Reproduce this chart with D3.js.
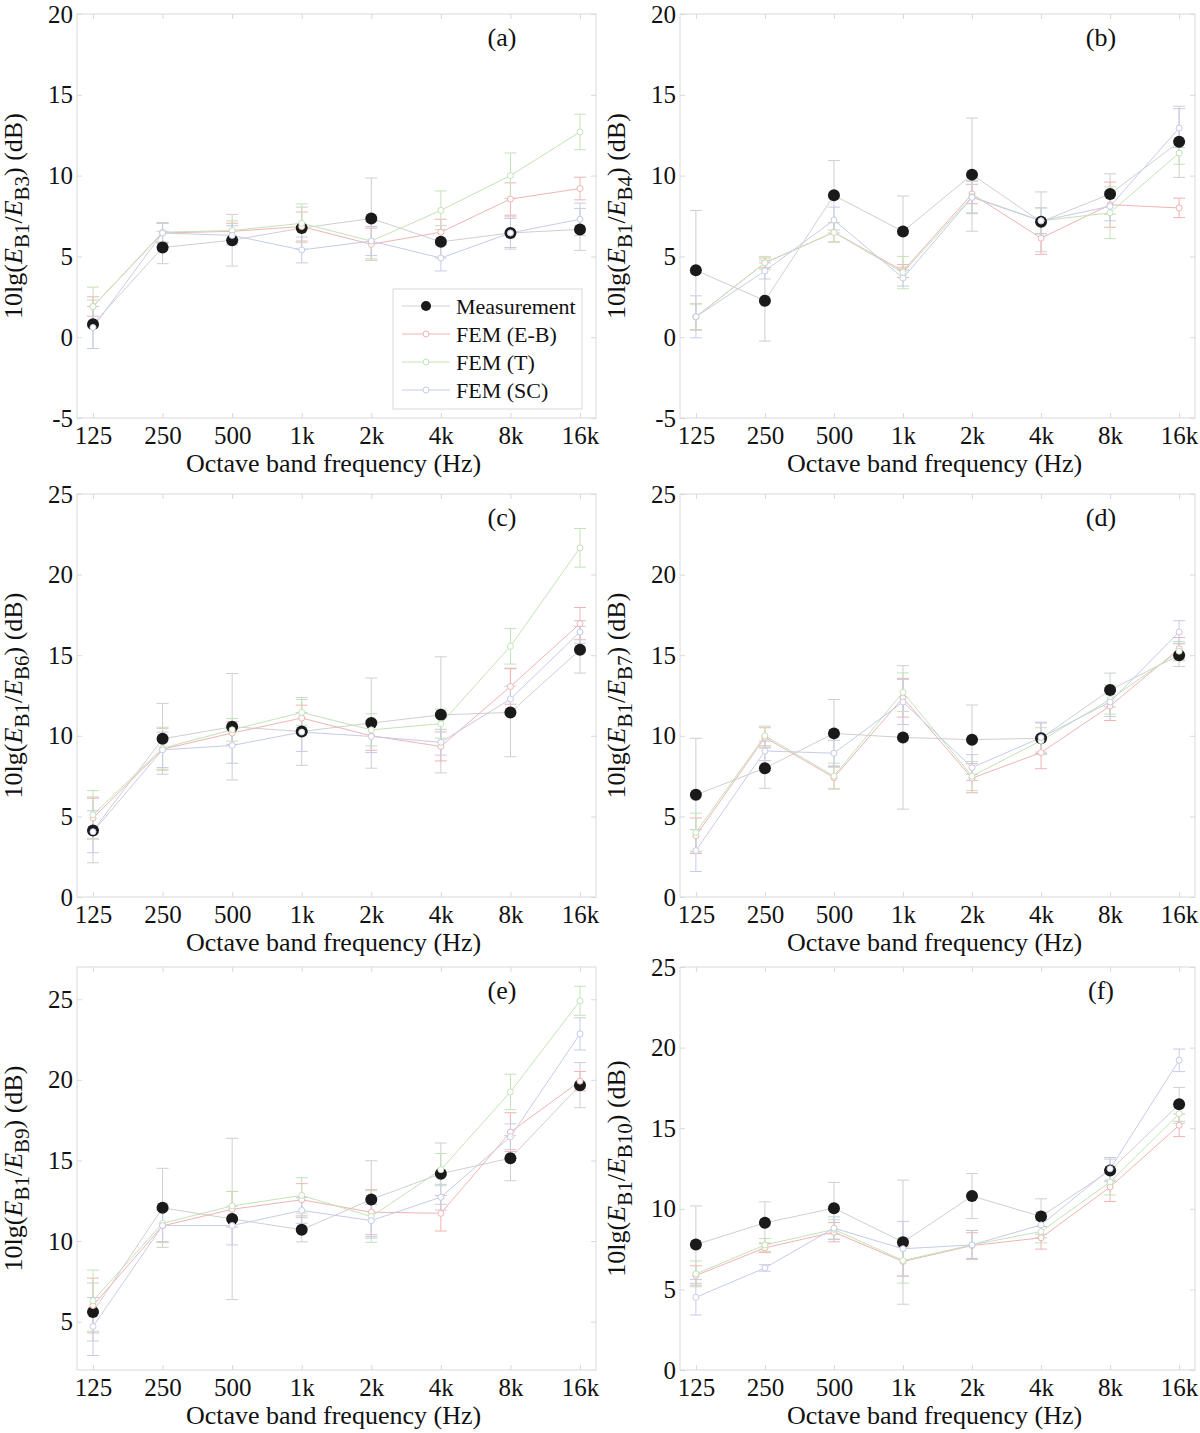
<!DOCTYPE html>
<html>
<head>
<meta charset="utf-8">
<script src="https://cdn.jsdelivr.net/npm/d3@7"></script>
<style>
  body { margin: 0; background: #fff; }
  svg { display: block; }
  text { font-family: "Liberation Serif", "Times New Roman", serif; fill: #111; }
</style>
</head>
<body>
<svg id="chart" width="1200" height="1433"></svg>
<script>
// octave bands on the x axis
const freqLabels = ["125", "250", "500", "1k", "2k", "4k", "8k", "16k"];
const panelLetters = ["(a)", "(b)", "(c)", "(d)", "(e)", "(f)"];
const receivers = ["B3", "B4", "B6", "B7", "B9", "B10"];
const yDomains = [[-5, 20], [-5, 20], [0, 25], [0, 25], [2, 27], [0, 25]];
const yTicks = [
    [-5, 0, 5, 10, 15, 20],
    [-5, 0, 5, 10, 15, 20],
    [0, 5, 10, 15, 20, 25],
    [0, 5, 10, 15, 20, 25],
    [5, 10, 15, 20, 25],
    [0, 5, 10, 15, 20, 25]
];
const seriesNames = ["Measurement", "FEM (E-B)", "FEM (T)", "FEM (SC)"];

// values, one row per panel (a)..(f)
const measurement = [
    [0.8, 5.55, 6.0, 6.75, 7.35, 5.9, 6.45, 6.67],
    [4.14, 2.26, 8.78, 6.54, 10.06, 7.14, 8.86, 12.09],
    [4.12, 9.81, 10.56, 10.27, 10.79, 11.3, 11.45, 15.34],
    [6.34, 7.99, 10.15, 9.9, 9.76, 9.85, 12.84, 15.0],
    [5.6, 12.06, 11.37, 10.7, 12.58, 14.18, 15.14, 19.67],
    [7.78, 9.13, 10.04, 7.93, 10.79, 9.52, 12.38, 16.48]
];
const measurementErr = [
    [1.5, 1.0, 1.6, 1.3, 2.5, 1.0, 1.0, 1.3],
    [3.7, 2.5, 2.15, 2.2, 3.5, 1.85, 1.25, 2.2],
    [2.0, 2.2, 3.3, 2.1, 2.8, 3.6, 2.75, 1.45],
    [3.5, 1.25, 2.1, 4.45, 2.15, 1.0, 1.05, 0.7],
    [1.8, 2.45, 5.0, 0.75, 2.4, 1.9, 1.4, 1.4],
    [2.4, 1.3, 1.6, 3.85, 1.4, 1.1, 0.7, 1.05]
];
const femEB = [
    [1.9, 6.45, 6.55, 6.85, 5.75, 6.5, 8.55, 9.2],
    [1.26, 4.6, 6.5, 4.1, 8.86, 6.13, 8.2, 8.0],
    [4.9, 9.17, 10.17, 11.1, 10.0, 9.34, 13.06, 16.96],
    [3.8, 9.9, 7.41, 12.36, 7.37, 8.96, 11.85, 15.4],
    [6.0, 10.94, 11.97, 12.56, 11.79, 11.72, 16.76, 19.92],
    [5.86, 7.58, 8.55, 6.73, 7.72, 8.2, 11.35, 15.18]
];
const femEBErr = [
    [0.6, 0.6, 0.5, 0.9, 1.0, 0.8, 1.0, 0.7],
    [0.8, 0.3, 0.6, 0.4, 0.6, 1.0, 1.4, 0.6],
    [1.3, 1.3, 0.7, 0.8, 0.9, 0.9, 1.1, 1.0],
    [1.1, 0.6, 0.7, 1.2, 0.9, 1.0, 0.9, 0.7],
    [1.7, 1.0, 1.1, 1.0, 1.4, 1.1, 1.2, 0.6],
    [0.6, 0.3, 0.6, 0.9, 0.8, 0.7, 0.9, 0.7]
];
const femT = [
    [1.9, 6.5, 6.6, 7.05, 5.95, 7.85, 10.0, 12.7],
    [1.26, 4.6, 6.48, 4.0, 8.7, 7.2, 7.7, 11.4],
    [5.1, 9.23, 10.37, 11.45, 10.37, 10.75, 15.55, 21.66],
    [4.0, 10.0, 7.5, 12.7, 7.5, 9.7, 12.25, 15.25],
    [6.3, 11.1, 12.18, 12.83, 11.52, 14.43, 19.25, 24.9],
    [5.96, 7.76, 8.72, 6.79, 7.76, 8.59, 11.66, 15.9]
];
const femTErr = [
    [1.2, 0.6, 0.6, 1.2, 1.2, 1.2, 1.4, 1.1],
    [0.8, 0.4, 0.6, 1.0, 1.0, 0.8, 1.6, 0.7],
    [1.5, 1.3, 0.7, 0.8, 1.0, 0.9, 1.1, 1.2],
    [1.2, 0.6, 0.8, 1.2, 0.9, 0.8, 0.9, 0.6],
    [1.9, 1.2, 0.9, 1.1, 1.6, 1.0, 1.1, 0.9],
    [0.8, 0.4, 0.6, 1.4, 0.9, 0.7, 0.8, 0.6]
];
const femSC = [
    [0.6, 6.45, 6.3, 5.4, 5.95, 4.9, 6.45, 7.3],
    [1.26, 4.1, 7.25, 3.66, 8.65, 7.2, 8.1, 12.94],
    [4.05, 9.13, 9.4, 10.23, 9.96, 9.6, 12.28, 16.44],
    [2.88, 9.06, 8.92, 12.1, 8.03, 9.89, 12.1, 16.44],
    [4.7, 10.96, 10.96, 11.9, 11.27, 12.72, 16.47, 22.85],
    [4.51, 6.33, 8.8, 7.52, 7.76, 9.0, 12.48, 19.21]
];
const femSCErr = [
    [1.3, 0.6, 0.6, 0.8, 0.9, 0.8, 0.9, 1.0],
    [1.3, 0.5, 0.8, 0.5, 1.0, 0.8, 0.9, 1.2],
    [1.3, 1.1, 1.1, 1.2, 1.0, 0.8, 0.8, 0.7],
    [1.3, 0.6, 0.8, 1.4, 0.8, 0.9, 0.9, 0.7],
    [1.8, 1.0, 1.2, 0.8, 1.0, 0.8, 0.8, 1.0],
    [1.1, 0.2, 0.7, 1.7, 0.9, 0.8, 0.7, 0.7]
];

const colors = ["#cfcfcf", "#f2b3b3", "#c3e3b8", "#c6cbe8"];
const frameColor = "#d9d9d9";

const cols = [[77, 596], [680, 1195]];
const rows = [[14, 418], [494, 897], [967, 1370]];

const svg = d3.select("#chart");

panelLetters.forEach((letter, p) => {
    const [x0, x1] = cols[p % 2];
    const [y0, y1] = rows[Math.floor(p / 2)];

    const x = d3.scalePoint().domain(freqLabels).range([x0, x1]).padding(0.23);
    const y = d3.scaleLinear().domain(yDomains[p]).range([y1, y0]);

    const g = svg.append("g").attr("class", "panel");

    g.append("rect")
        .attr("x", x0).attr("y", y0)
        .attr("width", x1 - x0).attr("height", y1 - y0)
        .attr("fill", "none")
        .attr("stroke", frameColor);

    // axes with inward ticks, plain hyphen for negatives
    const left = g.append("g")
        .attr("transform", `translate(${x0},0)`)
        .call(d3.axisLeft(y).tickValues(yTicks[p]).tickFormat(d => String(d))
            .tickSize(-5).tickPadding(4).tickSizeOuter(0));
    const right = g.append("g")
        .attr("transform", `translate(${x1},0)`)
        .call(d3.axisRight(y).tickValues(yTicks[p]).tickSize(-5).tickFormat("").tickSizeOuter(0));
    const bottom = g.append("g")
        .attr("transform", `translate(0,${y1})`)
        .call(d3.axisBottom(x).tickSize(-5).tickPadding(8).tickSizeOuter(0));
    const top = g.append("g")
        .attr("transform", `translate(0,${y0})`)
        .call(d3.axisTop(x).tickSize(-5).tickFormat("").tickSizeOuter(0));

    [left, right, bottom, top].forEach(a => {
        a.select(".domain").remove();
        a.selectAll(".tick line").attr("stroke", frameColor);
        a.selectAll(".tick text")
            .attr("font-size", 25)
            .attr("font-family", "Liberation Serif")
            .attr("fill", "#111");
    });

    g.append("text")
        .attr("x", (x0 + x1) / 2 - 3)
        .attr("y", y1 + 54)
        .attr("text-anchor", "middle")
        .attr("font-size", 26)
        .text("Octave band frequency (Hz)");

    const yt = g.append("text")
        .attr("transform", `translate(${x0 - 55},${(y0 + y1) / 2}) rotate(-90)`)
        .attr("text-anchor", "middle")
        .attr("font-size", 26);
    yt.append("tspan").text("10lg(");
    yt.append("tspan").attr("font-style", "italic").text("E");
    yt.append("tspan").attr("font-size", 21).attr("dy", 7).text("B1");
    yt.append("tspan").attr("dy", -7).text("/");
    yt.append("tspan").attr("font-style", "italic").text("E");
    yt.append("tspan").attr("font-size", 21).attr("dy", 7).text(receivers[p]);
    yt.append("tspan").attr("dy", -7).text(") (dB)");

    g.append("text")
        .attr("x", x1 - 94)
        .attr("y", y0 + 32)
        .attr("text-anchor", "middle")
        .attr("font-size", 26)
        .text(letter);

    const series = [
        {vals: measurement[p], errs: measurementErr[p]},
        {vals: femEB[p], errs: femEBErr[p]},
        {vals: femT[p], errs: femTErr[p]},
        {vals: femSC[p], errs: femSCErr[p]}
    ].map((s, i) => ({
        color: colors[i],
        pts: s.vals.map((v, j) => ({f: freqLabels[j], v: v, e: s.errs[j]}))
    }));

    const line = d3.line().x(d => x(d.f)).y(d => y(d.v));

    series.forEach(s => {
        const eb = g.append("g").attr("stroke", s.color).attr("stroke-width", 1);
        s.pts.forEach(d => {
            const cx = x(d.f);
            eb.append("line").attr("x1", cx).attr("x2", cx)
                .attr("y1", y(d.v - d.e)).attr("y2", y(d.v + d.e));
            [d.v - d.e, d.v + d.e].forEach(val => {
                eb.append("line").attr("x1", cx - 6).attr("x2", cx + 6)
                    .attr("y1", y(val)).attr("y2", y(val));
            });
        });
    });

    series.forEach(s => {
        g.append("path").datum(s.pts)
            .attr("d", line)
            .attr("fill", "none")
            .attr("stroke", s.color)
            .attr("stroke-width", 1);
    });

    g.selectAll("circle.meas").data(series[0].pts).enter()
        .append("circle")
        .attr("class", "meas")
        .attr("cx", d => x(d.f)).attr("cy", d => y(d.v))
        .attr("r", 6)
        .attr("fill", "#1a1a1a");

    series.slice(1).forEach(s => {
        g.append("g").selectAll("circle").data(s.pts).enter()
            .append("circle")
            .attr("cx", d => x(d.f)).attr("cy", d => y(d.v))
            .attr("r", 3)
            .attr("fill", "#fff")
            .attr("stroke", s.color)
            .attr("stroke-width", 1);
    });

    if (p === 0) {
        const lg = g.append("g");
        lg.append("rect")
            .attr("x", 393).attr("y", 289)
            .attr("width", 189).attr("height", 120)
            .attr("fill", "#fff")
            .attr("stroke", frameColor);
        seriesNames.forEach((name, i) => {
            const ly = 306 + i * 28;
            lg.append("line")
                .attr("x1", 402).attr("x2", 450)
                .attr("y1", ly).attr("y2", ly)
                .attr("stroke", colors[i]);
            if (i === 0) {
                lg.append("circle").attr("cx", 426).attr("cy", ly).attr("r", 5).attr("fill", "#1a1a1a");
            } else {
                lg.append("circle").attr("cx", 426).attr("cy", ly).attr("r", 3)
                    .attr("fill", "#fff").attr("stroke", colors[i]);
            }
            lg.append("text")
                .attr("x", 456).attr("y", ly)
                .attr("dy", "0.35em")
                .attr("font-size", 22)
                .text(name);
        });
    }
});
</script>
</body>
</html>
